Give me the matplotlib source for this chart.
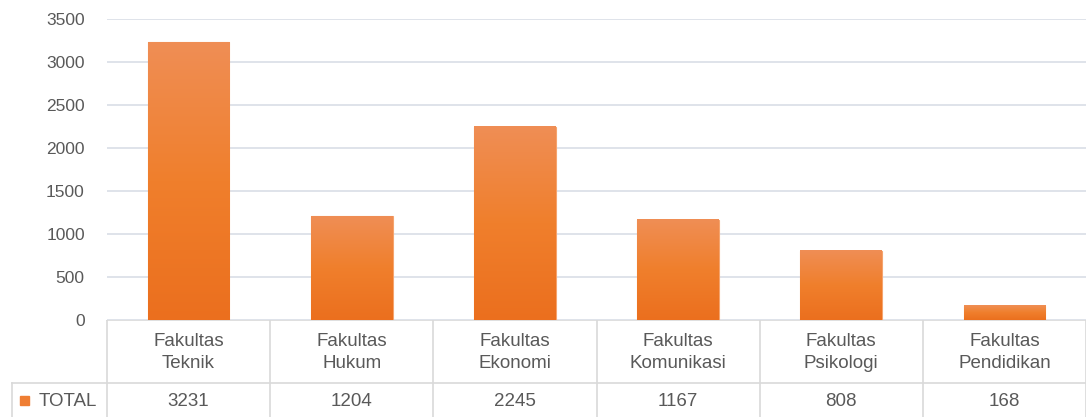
import numpy as np
import matplotlib.pyplot as plt
from matplotlib.colors import LinearSegmentedColormap

categories = ["Fakultas\nTeknik", "Fakultas\nHukum", "Fakultas\nEkonomi",
              "Fakultas\nKomunikasi", "Fakultas\nPsikologi", "Fakultas\nPendidikan"]
totals = [3231, 1204, 2245, 1167, 808, 168]
series_name = "TOTAL"
yticks = [0, 500, 1000, 1500, 2000, 2500, 3000, 3500]

plt.rcParams['font.family'] = ['Liberation Sans', 'DejaVu Sans']
text_col = "#595959"
line_col = "#D9D9D9"
fs = 12.5
tfs = 13.5

W, H = 1086, 417
fig = plt.figure(figsize=(W / 100, H / 100), dpi=100)

# plot area in pixel terms
left, right, top, base = 107, 1086, 19, 320
ax = fig.add_axes([left / W, (H - base) / H, (right - left) / W, (base - top) / H])
ax.set_xlim(0, len(categories))
ax.set_ylim(0, 3500)
ax.set_yticks(yticks)
ax.set_yticklabels([str(v) for v in yticks], color=text_col, fontsize=fs)
ax.tick_params(axis='y', length=0, pad=16)
ax.set_xticks([])
for s in ax.spines.values():
    s.set_visible(False)
ax.grid(axis='y', color="#DCE0E8", linewidth=1.3)
ax.set_axisbelow(True)

x = np.arange(len(categories)) + 0.5
bars = ax.bar(x, totals, width=0.5, color="#EF7E33", edgecolor="#F5A46E", linewidth=0.8, zorder=2)

cmap = LinearSegmentedColormap.from_list("g", ["#EB6F1E", "#F07F2C", "#EF8E55"])
grad = np.linspace(0, 1, 256).reshape(-1, 1)
for b in bars:
    x0, w, h = b.get_x(), b.get_width(), b.get_height()
    ax.imshow(grad, extent=[x0, x0 + w, 0, h], aspect='auto', cmap=cmap,
              origin='lower', zorder=2.5)
ax.set_xlim(0, len(categories))
ax.set_ylim(0, 3500)

# data table below the plot
tab = fig.add_axes([0, 0, 1, (H - base) / H])
tab.set_xlim(0, W)
tab.set_ylim(H, base)
tab.axis('off')
colw = (right - left) / len(categories)
row_y = 383
tab.plot([left, W], [base, base], color=line_col, lw=1.2)
tab.plot([12, W], [row_y, row_y], color=line_col, lw=1.2)
tab.plot([12, 12], [row_y, H], color=line_col, lw=1.2)
for i in range(len(categories) + 1):
    xl = left + i * colw
    tab.plot([xl, xl], [base, H], color=line_col, lw=1.2)
for i, (c, v) in enumerate(zip(categories, totals)):
    xc = left + (i + 0.5) * colw
    tab.text(xc, (base + row_y) / 2 + 1, c, ha='center', va='center',
             color=text_col, fontsize=tfs, linespacing=1.4)
    tab.text(xc, (row_y + H) / 2 + 1, str(v), ha='center', va='center',
             color=text_col, fontsize=tfs)
tab.add_patch(plt.Rectangle((20, 396), 9, 9, color="#EF7E33"))
tab.text(39, (row_y + H) / 2 + 1, series_name, ha='left', va='center',
         color=text_col, fontsize=tfs)

fig.savefig("out.png", dpi=100)
